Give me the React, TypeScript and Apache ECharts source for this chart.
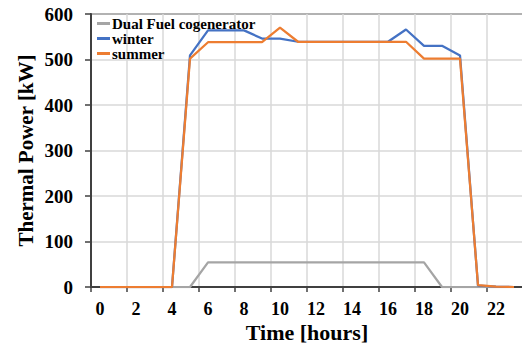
import React, { useEffect, useRef } from "react";
import * as echarts from "echarts";

const hours = ["0","1","2","3","4","5","6","7","8","9","10","11","12","13","14","15","16","17","18","19","20","21","22","23"];
const cogenerator = [0,0,0,0,0,0,54,54,54,54,54,54,54,54,54,54,54,54,54,0,0,0,0,0];
const winter = [0,0,0,0,0,509,564,564,564,546,546,539,539,539,539,539,539,566,530,530,509,3,1,0];
const summer = [0,0,0,0,0,502,538,538,538,538,570,539,539,539,539,539,539,539,502,502,502,4,1,0];
const seriesNames = ["Dual Fuel cogenerator", "winter", "summer"];
const seriesColors = ["#A5A5A5", "#4472C4", "#ED7D31"];

const FONT = "'Liberation Serif', 'Times New Roman', serif";

export default function App() {
  const ref = useRef<HTMLDivElement>(null);
  useEffect(() => {
    if (!ref.current) return;
    const chart = echarts.init(ref.current, null, { renderer: "svg" });
    const data = [cogenerator, winter, summer];
    chart.setOption({
      animation: false,
      grid: {
        left: 91,
        top: 14,
        width: 432,
        bottom: 59,
        containLabel: false,
        outerBoundsMode: "none",
        show: true,
        borderColor: "#404040",
        borderWidth: 2,
        backgroundColor: "transparent",
      },
      legend: {
        orient: "vertical",
        left: 97,
        top: 16,
        padding: 0,
        icon: "rect",
        itemWidth: 13,
        itemHeight: 3,
        itemGap: 0,
        data: seriesNames,
        textStyle: {
          fontFamily: FONT,
          fontWeight: "bold",
          fontSize: 15,
          color: "#000",
          padding: [0, 0, 0, -3],
          lineHeight: 15,
        },
      },
      xAxis: {
        type: "category",
        data: hours,
        boundaryGap: true,
        name: "Time [hours]",
        nameLocation: "middle",
        nameGap: 34,
        nameMoveOverlap: false,
        nameTextStyle: { fontFamily: FONT, fontWeight: "bold", fontSize: 22, color: "#000", lineHeight: 22 },
        axisLine: { lineStyle: { color: "#404040", width: 2 } },
        axisTick: { show: true, interval: 1, length: 5, lineStyle: { color: "#404040", width: 1.5 } },
        axisLabel: {
          interval: 1,
          margin: 13,
          fontFamily: FONT,
          fontWeight: "bold",
          fontSize: 18,
          lineHeight: 18,
          color: "#000",
        },
        splitLine: { show: true, interval: 1, lineStyle: { color: "#D9D9D9", width: 1.5 } },
      },
      yAxis: {
        type: "value",
        min: 0,
        max: 600,
        interval: 100,
        name: "Thermal Power [kW]",
        nameLocation: "middle",
        nameGap: 55,
        nameMoveOverlap: false,
        nameTextStyle: { fontFamily: FONT, fontWeight: "bold", fontSize: 21, color: "#000" },
        axisLine: { show: true, lineStyle: { color: "#404040", width: 2 } },
        axisTick: { show: true, length: 6, lineStyle: { color: "#404040", width: 1.5 } },
        axisLabel: {
          margin: 18,
          fontFamily: FONT,
          fontWeight: "bold",
          fontSize: 19,
          color: "#000",
        },
        splitLine: { show: true, lineStyle: { color: "#D9D9D9", width: 1.5 } },
      },
      series: seriesNames.map((name, i) => ({
        name,
        type: "line",
        data: data[i],
        showSymbol: false,
        symbol: "none",
        color: seriesColors[i],
        lineStyle: { color: seriesColors[i], width: 2.25 },
        z: 2 + i,
      })),
    });
    return () => chart.dispose();
  }, []);
  return <div ref={ref} style={{ width: 522, height: 346, position: "absolute", left: 0, top: 0 }} />;
}
